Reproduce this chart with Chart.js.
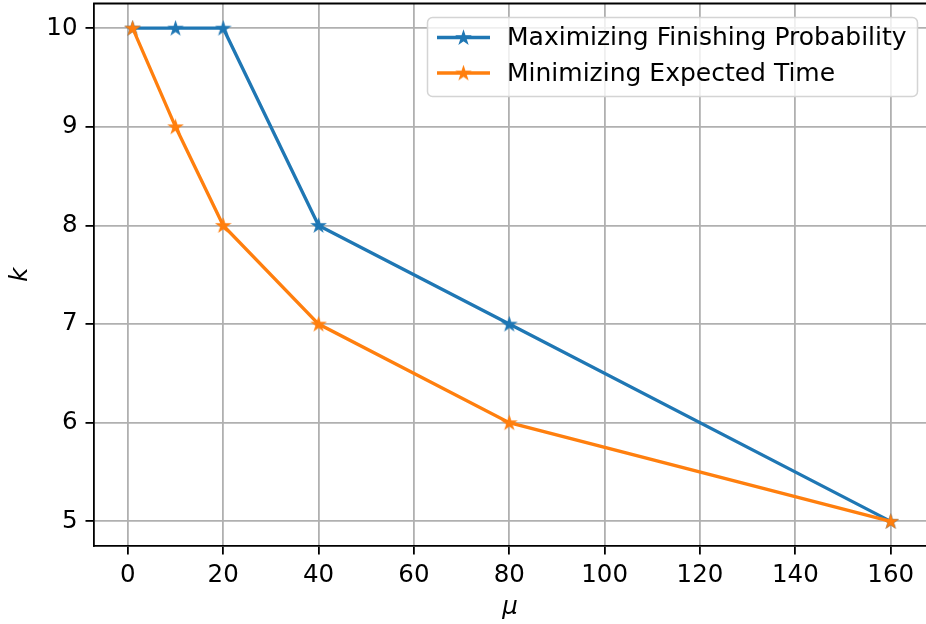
<!DOCTYPE html>
<html>
<head>
<meta charset="utf-8">
<script src="https://cdn.jsdelivr.net/npm/chart.js@4.4.1/dist/chart.umd.min.js"></script>
<style>
  html, body { margin: 0; padding: 0; background: #fff; }
  #wrap { width: 926px; height: 624px; }
</style>
</head>
<body>
<div id="wrap"><canvas id="plot" width="926" height="624"></canvas></div>
<script>
// mu values shared by both policies
const mu = [1, 10, 20, 40, 80, 160];
const kFinishing = [10, 10, 10, 8, 7, 5];
const kExpected = [10, 9, 8, 7, 6, 5];
const seriesNames = ['Maximizing Finishing Probability', 'Minimizing Expected Time'];
const xTicks = [0, 20, 40, 60, 80, 100, 120, 140, 160];
const yTicks = [5, 6, 7, 8, 9, 10];

const BLUE = '#1f77b4';
const ORANGE = '#ff7f0e';
const FONT = '"DejaVu Sans", sans-serif';
const FONT_SIZE = 24.5;
const LINE_W = 3.3;

// filled five-point star, like matplotlib's '*' marker
function starMarker(color, r) {
  const size = Math.ceil(r * 2 + 4);
  const c = document.createElement('canvas');
  c.width = size; c.height = size;
  const g = c.getContext('2d');
  const cx = size / 2, cy = size / 2 + 0.5, inner = r * 0.382;
  g.beginPath();
  for (let i = 0; i < 10; i++) {
    const rad = i % 2 === 0 ? r : inner;
    const a = -Math.PI / 2 + i * Math.PI / 5;
    const px = cx + rad * Math.cos(a), py = cy + rad * Math.sin(a);
    if (i === 0) g.moveTo(px, py); else g.lineTo(px, py);
  }
  g.closePath();
  g.fillStyle = color;
  g.fill();
  g.lineWidth = 1.4;
  g.strokeStyle = color;
  g.lineJoin = 'miter';
  g.stroke();
  return c;
}

function toPoints(xs, ys) {
  return xs.map((x, i) => ({ x: x, y: ys[i] }));
}

const starBlue = starMarker(BLUE, 6.5);
const starOrange = starMarker(ORANGE, 6.5);

// top spine + boxed legend drawn on top of the plot
const extras = {
  id: 'extras',
  afterDraw(chart) {
    const ctx = chart.ctx;
    const a = chart.chartArea;
    ctx.save();
    ctx.strokeStyle = '#000';
    ctx.lineWidth = 1.8;
    ctx.beginPath();
    ctx.moveTo(a.left - 0.9, a.top);
    ctx.lineTo(a.right, a.top);
    ctx.stroke();

    // legend box
    const bx = 427.5, by = 17.5, bw = 490, bh = 79, r = 5;
    ctx.beginPath();
    ctx.moveTo(bx + r, by);
    ctx.arcTo(bx + bw, by, bx + bw, by + bh, r);
    ctx.arcTo(bx + bw, by + bh, bx, by + bh, r);
    ctx.arcTo(bx, by + bh, bx, by, r);
    ctx.arcTo(bx, by, bx + bw, by, r);
    ctx.closePath();
    ctx.fillStyle = 'rgba(255,255,255,0.8)';
    ctx.fill();
    ctx.strokeStyle = '#d4d4d4';
    ctx.lineWidth = 1.5;
    ctx.stroke();

    chart.data.datasets.forEach((ds, i) => {
      const y = 37.5 + i * 35.5;
      ctx.strokeStyle = ds.borderColor;
      ctx.lineWidth = LINE_W;
      ctx.beginPath();
      ctx.moveTo(437, y);
      ctx.lineTo(490, y);
      ctx.stroke();
      const m = ds.pointStyle;
      ctx.drawImage(m, 463.5 - m.width / 2, y - m.height / 2);
      ctx.fillStyle = '#000';
      ctx.font = '25px ' + FONT;
      ctx.textAlign = 'left';
      ctx.textBaseline = 'middle';
      ctx.fillText(ds.label, 507, y + 1);
    });
    ctx.restore();
  }
};

const tickFont = { family: FONT, size: FONT_SIZE };

new Chart(document.getElementById('plot'), {
  type: 'line',
  data: {
    datasets: [
      {
        label: seriesNames[0],
        data: toPoints(mu, kFinishing),
        borderColor: BLUE,
        backgroundColor: BLUE,
        borderWidth: LINE_W,
        pointStyle: starBlue,
        pointRadius: 7,
        tension: 0,
        order: 1
      },
      {
        label: seriesNames[1],
        data: toPoints(mu, kExpected),
        borderColor: ORANGE,
        backgroundColor: ORANGE,
        borderWidth: LINE_W,
        pointStyle: starOrange,
        pointRadius: 7,
        tension: 0,
        order: 0
      }
    ]
  },
  options: {
    responsive: false,
    animation: false,
    layout: { autoPadding: false, padding: { top: 3.5, right: 0, left: 0, bottom: 0 } },
    plugins: {
      legend: { display: false },
      tooltip: { enabled: false }
    },
    scales: {
      x: {
        type: 'linear',
        min: -7.1,
        max: 167.4,
        afterBuildTicks(scale) { scale.ticks = xTicks.map(v => ({ value: v })); },
        afterFit(scale) {
          scale.height = 78;
          scale.paddingLeft = 0; scale.paddingRight = 0;
        },
        grid: { color: '#b0b0b0', lineWidth: 1.8, tickColor: '#000', tickLength: 8.5 },
        border: { color: '#000', width: 1.8 },
        ticks: { color: '#000', font: tickFont, padding: 6, maxRotation: 0 },
        title: {
          display: true,
          text: 'μ',
          color: '#000',
          font: { family: FONT, size: FONT_SIZE, style: 'italic' },
          padding: { top: 0, bottom: 2 }
        }
      },
      y: {
        min: 4.75,
        max: 10.25,
        afterBuildTicks(scale) { scale.ticks = yTicks.map(v => ({ value: v })); },
        afterFit(scale) {
          scale.width = 94;
          scale.paddingTop = 0; scale.paddingBottom = 0;
        },
        grid: { color: '#b0b0b0', lineWidth: 1.8, tickColor: '#000', tickLength: 8.5 },
        border: { color: '#000', width: 1.8 },
        ticks: { color: '#000', font: tickFont, padding: 8 },
        title: {
          display: true,
          text: 'k',
          color: '#000',
          font: { family: FONT, size: FONT_SIZE, style: 'italic' },
          padding: { top: 6, bottom: 0 }
        }
      }
    }
  },
  plugins: [extras]
});
</script>
</body>
</html>
